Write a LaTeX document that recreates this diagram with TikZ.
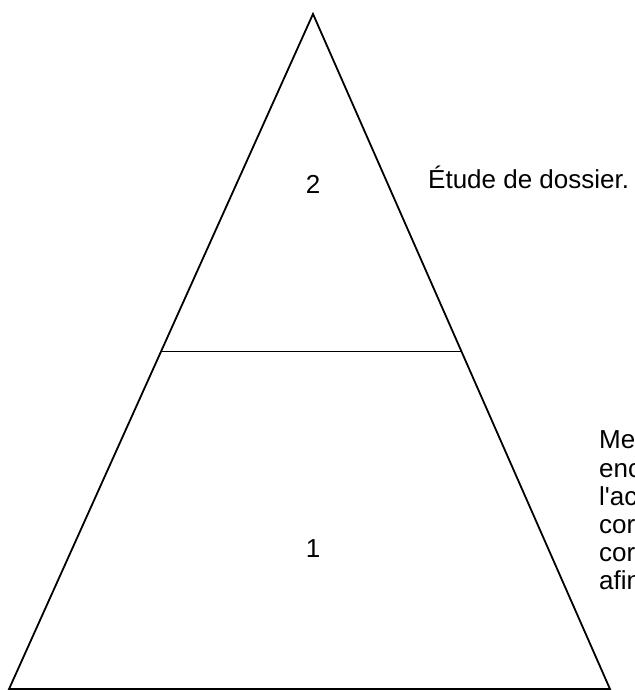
\documentclass[tikz,border=0pt]{standalone}
\usepackage{fontspec}
\setmainfont{Liberation Sans}[Ligatures=TeXOff]
\usetikzlibrary{calc}
\tikzset{
  lbl/.style={font=\fontsize{26}{28.2}\selectfont, inner sep=0pt},
  edge/.style={line width=1.8pt, line join=miter},
}
\begin{document}
\begin{tikzpicture}[x=1pt,y=1pt]
\useasboundingbox (0,0) rectangle (634,690);
\coordinate (top) at (313,676);
\coordinate (bl) at (9,0.9);
\coordinate (br) at (610,0.9);
\coordinate (ml) at ($(top)!0.5!(bl)$);
\coordinate (mr) at ($(top)!0.5!(br)$);
\draw[edge] (bl) -- (top) -- (br) -- cycle;
\draw[edge] (ml) -- (mr);
\node[lbl, anchor=base] (lvl2) at (313,496) {2};
\node[lbl, anchor=base] (lvl1) at (313,132) {1};
\node[lbl, anchor=base west] (etude) at (428,501) {Étude de dossier.};
\node[lbl, anchor=base west, align=left] (detail) at (599,100) {Me\\enc\\l'ac\\cor\\cor\\afin};
\end{tikzpicture}
\end{document}
